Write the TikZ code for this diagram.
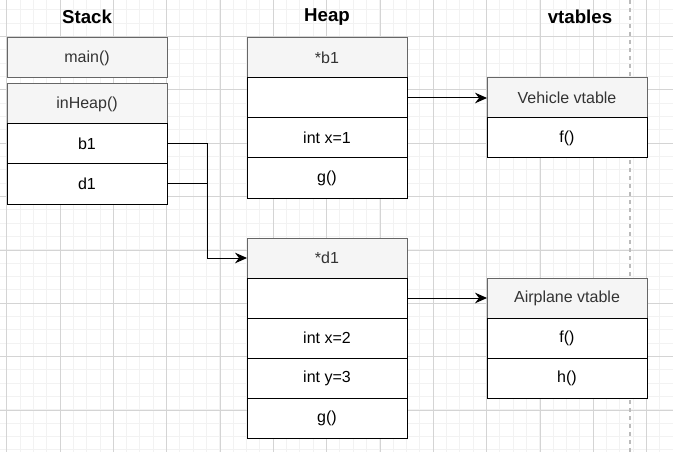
\documentclass[tikz,border=0pt]{standalone}
\usepackage{fontspec}
\setmainfont{Liberation Sans}
\usetikzlibrary{arrows.meta, positioning, calc}
\definecolor{hdrfill}{HTML}{F5F5F5}
\definecolor{hdrline}{HTML}{666666}
\definecolor{hdrtext}{HTML}{333333}
\definecolor{gridminor}{HTML}{F2F2F2}
\definecolor{gridmajor}{HTML}{D4D4D4}
\definecolor{sepline}{HTML}{BBBBBB}

\begin{document}
\begin{tikzpicture}[x=0.75pt, y=-0.75pt,
  hdr/.style={draw=hdrline, fill=hdrfill, text=hdrtext, line width=0.75pt,
    minimum width=120pt, minimum height=30pt, inner sep=0pt, outer sep=0pt,
    font=\fontsize{12}{14}\selectfont},
  cell/.style={hdr, draw=black, fill=white, text=black},
  title/.style={font=\bfseries\fontsize{14}{17}\selectfont},
  link/.style={line width=0.75pt, -{Stealth[length=9pt, width=8pt, inset=3pt]}}]

\useasboundingbox (0,0) rectangle (673,452);
\fill[white] (0,0) rectangle (673,452);

% Background grid
\foreach \i in {-1,...,50} {
    \draw[gridminor, line width=0.75pt] (6.667+13.333*\i,0) -- (6.667+13.333*\i,452);
}
\foreach \j in {-3,...,31} {
    \draw[gridminor, line width=0.75pt] (0,36.667+13.333*\j) -- (673,36.667+13.333*\j);
}
\foreach \i in {0,...,12} {
    \draw[gridmajor, line width=0.75pt] (6.667+53.333*\i,0) -- (6.667+53.333*\i,452);
}
\foreach \j in {-1,...,8} {
    \draw[gridmajor, line width=0.75pt] (0,36.667+53.333*\j) -- (673,36.667+53.333*\j);
}

% Separator
\draw[sepline, dashed, line width=1pt] (630,0) -- (630,452);

% Column titles
\node[title] (tstack) at (87,17) {Stack};
\node[title] (theap) at (327,17) {Heap};
\node[title] (tvtab) at (580,17) {vtables};

% Stack frames
\node[hdr, anchor=north west] (smain) at (7,38) {main()};
\node[hdr, anchor=north west] (sheap) at (7,84) {inHeap()};
\node[cell, below=0pt of sheap] (sb1) {b1};
\node[cell, below=0pt of sb1] (sd1) {d1};

% Heap object *b1
\node[hdr, anchor=north west] (hb1) at (247,38) {*b1};
\node[cell, below=0pt of hb1] (hb1vp) {};
\node[cell, below=0pt of hb1vp] (hb1x) {int x=1};
\node[cell, below=0pt of hb1x] (hb1g) {g()};

% Heap object *d1
\node[hdr, anchor=north west] (hd1) at (247,238) {*d1};
\node[cell, below=0pt of hd1] (hd1vp) {};
\node[cell, below=0pt of hd1vp] (hd1x) {int x=2};
\node[cell, below=0pt of hd1x] (hd1y) {int y=3};
\node[cell, below=0pt of hd1y] (hd1g) {g()};

% vtables
\node[hdr, anchor=north west] (vveh) at (487,78) {Vehicle vtable};
\node[cell, below=0pt of vveh] (vvehf) {f()};

\node[hdr, anchor=north west] (vair) at (487,278) {Airplane vtable};
\node[cell, below=0pt of vair] (vairf) {f()};
\node[cell, below=0pt of vairf] (vairh) {h()};

% Pointers
\coordinate (jn) at ($(sb1.east)+(40,0)$);
\draw[link] (sb1.east) -- (jn) |- (hd1.west);
\draw[line width=0.75pt] (sd1.east) -- (sd1.east -| jn);
\draw[link] (hb1vp.east) -- (vveh.west);
\draw[link] (hd1vp.east) -- (vair.west);

\end{tikzpicture}
\end{document}
